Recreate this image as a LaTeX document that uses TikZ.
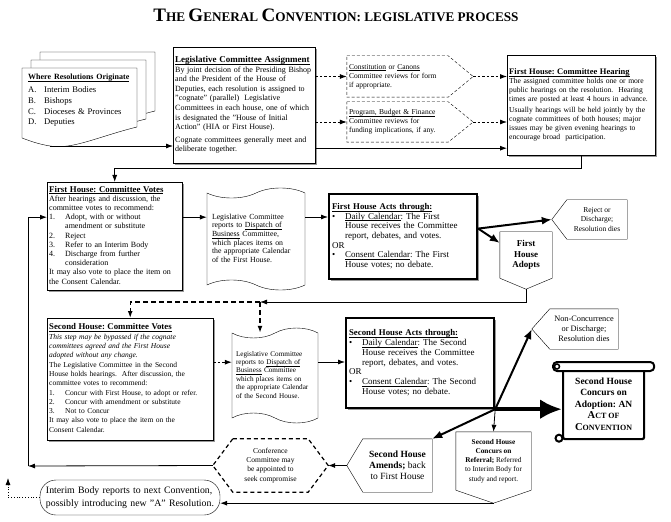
\documentclass[tikz,border=0pt]{standalone}
\usepackage{fontspec}
\setmainfont{Liberation Serif}
\usetikzlibrary{arrows.meta, shapes.symbols, shadows}
\frenchspacing
\newcommand{\setfs}[2]{\fontsize{#1}{#2}\selectfont}
\newcommand{\ulin}[1]{\underline{\smash{#1}}}
\newcommand{\boxhead}[1]{\ulin{\textbf{#1}}}
\newcommand{\boxlines}[1]{\begin{tabular}{@{}l@{}}#1\end{tabular}}
\newcommand{\numitem}[1]{\makebox[16bp][l]{#1}}
\newcommand{\bulitem}{\makebox[13bp][l]{\textbullet}}
\newcommand{\bulpad}{\hspace*{13bp}}
\newcommand{\titlecap}[2]{{\setfs{19bp}{20bp}#1}#2}

\begin{document}
\begin{tikzpicture}[x=1bp, y=-1bp, every node/.style={inner sep=2bp},
    box/.style={draw, fill=white, align=left, anchor=north west,
        drop shadow={shadow xshift=2bp, shadow yshift=-2bp, fill=black!40, opacity=1}},
    actbox/.style={box, line width=2.2bp},
    flag/.style={align=center},
    paper/.style={tape, draw, fill=white, align=left, tape bend top=in and out,
        tape bend bottom=out and in, tape bend height=10bp},
    arr/.style={line width=0.8bp, -{Latex[length=7bp,width=5bp]}},
    darr/.style={arr, dash pattern=on 2.5bp off 2bp},
    bdarr/.style={arr, line width=1.4bp, dash pattern=on 5bp off 3bp},
    tarr/.style={line width=2bp, -{Latex[length=10bp,width=8bp]}}]
    \path[use as bounding box, fill=white] (0,0) rectangle (671,522);
    \node[font=\bfseries\setfs{13.2bp}{16bp}] (title) at (336,15)
        {\titlecap{T}{HE} \titlecap{G}{ENERAL} \titlecap{C}{ONVENTION:} LEGISLATIVE PROCESS};

    \foreach \d in {2,1,0}
        \draw[fill=white, shift={(9*\d,-8*\d)}] (22,68) -- (137,68) -- (137,127)
            .. controls (100,136) and (72,150) .. (50,146)
            .. controls (38,144) and (30,141) .. (22,138) -- cycle;
    \node[align=left, anchor=north west, text width=110bp, font=\setfs{8.6bp}{10.8bp}] (orig) at (26,70)
        {\boxlines{{\setfs{8bp}{9bp}\boxhead{Where Resolutions Originate}}\\[2bp]
        \numitem{A.}Interim Bodies\\ \numitem{B.}Bishops\\
        \numitem{C.}Dioceses \& Provinces\\ \numitem{D.}Deputies}};
    \coordinate (origout) at (50,146);

    \node[box, minimum width=142bp, minimum height=116bp, text width=138bp, font=\setfs{8bp}{9.6bp}] (assign) at (173,47)
        {\boxlines{{\setfs{9bp}{10bp}\boxhead{Legislative Committee Assignment}}\\
        By joint decision of the Presiding Bishop\\
        and the President of the House of\\
        Deputies, each resolution is assigned to\\
        "cognate" (parallel)\ \ Legislative\\
        Committees in each house, one of which\\
        is designated the "House of Initial\\
        Action" (HIA or First House).\\[3bp]
        Cognate committees generally meet and\\
        deliberate together.}};
    \node[align=left, minimum width=101bp, minimum height=41bp, text width=97bp,
        font=\setfs{7.5bp}{9bp}] (constit) at (397.5,76.5)
        {\boxlines{\ulin{Constitution} or \ulin{Canons}\\ Committee reviews for form\\ if appropriate.}};
    \node[align=left, minimum width=101bp, minimum height=40bp, text width=97bp,
        font=\setfs{7.5bp}{9bp}] (pbf) at (397.5,122)
        {\boxlines{\ulin{Program, Budget \& Finance}\\ Committee reviews for\\ funding implications, if any.}};
    \coordinate (constit-tip) at ([xshift=25bp]constit.east);
    \coordinate (pbf-tip) at ([xshift=25bp]pbf.east);
    \foreach \n in {constit, pbf}
        \draw[dash pattern=on 3bp off 2bp] (\n.north west) -- (\n.north east) -- (\n-tip)
            -- (\n.south east) -- (\n.south west) -- cycle;
    \node[box, minimum width=148bp, minimum height=100bp, text width=144bp, font=\setfs{7.6bp}{8.8bp}] (hearing) at (507,55)
        {\boxlines{{\setfs{8.5bp}{9bp}\boxhead{First House: Committee Hearing}}\\
        The assigned committee holds one or more\\
        public hearings on the resolution.\ \ Hearing\\
        times are posted at least 4 hours in advance.\\[3bp]
        Usually hearings will be held jointly by the\\
        cognate committees of both houses; major\\
        issues may be given evening hearings to\\
        encourage broad\ \ participation.}};

    \node[box, minimum width=135bp, minimum height=108bp, text width=131bp, font=\setfs{8bp}{9.2bp}] (fvotes) at (47,182)
        {\boxlines{{\setfs{8.8bp}{9bp}\boxhead{First House: Committee Votes}}\\
        After hearings and discussion, the\\
        committee votes to recommend:\\
        \numitem{1.}Adopt, with or without\\
        \numitem{}amendment or substitute\\
        \numitem{2.}Reject\\
        \numitem{3.}Refer to an Interim Body\\
        \numitem{4.}Discharge from further\\
        \numitem{}consideration\\
        It may also vote to place the item on\\
        the Consent Calendar.}};
    \node[paper, minimum width=98bp, minimum height=102bp, text width=88bp, font=\setfs{7.8bp}{8.6bp}] (fdoc) at (256,239)
        {\boxlines{Legislative Committee\\ reports to \ulin{Dispatch of}\\ \ulin{Business} Committee,\\
        which places items on\\ the appropriate Calendar\\ of the First House.}};
    \node[actbox, minimum width=148bp, minimum height=85bp, text width=142bp, font=\setfs{9bp}{9.7bp}] (facts) at (328,193)
        {\boxlines{{\setfs{8.8bp}{9bp}\boxhead{First House Acts through:}}\\
        \bulitem\ulin{Daily Calendar}: The First\\
        \bulpad House receives the Committee\\
        \bulpad report, debates, and votes.\\
        OR\\
        \bulitem\ulin{Consent Calendar}: The First\\
        \bulpad House votes; no debate.}};
    \node[flag, minimum width=60bp, minimum height=39bp, font=\setfs{7.5bp}{9.5bp}] (reject) at (597,219.5)
        {Reject or\\ Discharge;\\ Resolution dies};
    \node[flag, minimum width=52bp, minimum height=46bp, font=\bfseries\setfs{9bp}{10.5bp}] (adopts) at (526,255)
        {First\\ House\\ Adopts};

    \node[box, minimum width=166bp, minimum height=122bp, text width=162bp, font=\setfs{7.5bp}{9.3bp}] (svotes) at (47,318)
        {\boxlines{{\setfs{8.8bp}{9.5bp}\boxhead{Second House: Committee Votes}}\\
        {\itshape This step may be bypassed if the cognate}\\
        {\itshape committees agreed and the First House}\\
        {\itshape adopted without any change.}\\
        The Legislative Committee in the Second\\
        House holds hearings.\ \ After discussion, the\\
        committee votes to recommend:\\
        \numitem{1.}Concur with First House, to adopt or refer.\\
        \numitem{2.}Concur with amendment or substitute\\
        \numitem{3.}Not to Concur\\
        It may also vote to place the item on the\\
        Consent Calendar.}};
    \node[paper, minimum width=86bp, minimum height=95bp, text width=78bp, font=\setfs{7.2bp}{8.4bp}] (sdoc) at (275,375.5)
        {\boxlines{Legislative Committee\\ reports to \ulin{Dispatch of}\\ \ulin{Business} Committee\\
        which places items on\\ the appropriate Calendar\\ of the Second House.}};
    \node[actbox, minimum width=148bp, minimum height=90bp, text width=142bp, font=\setfs{9bp}{9.7bp}] (sacts) at (345,317)
        {\boxlines{{\setfs{8.8bp}{9bp}\boxhead{Second House Acts through:}}\\
        \bulitem\ulin{Daily Calendar}: The Second\\
        \bulpad House receives the Committee\\
        \bulpad report, debates, and votes.\\
        OR\\
        \bulitem\ulin{Consent Calendar}: The Second\\
        \bulpad House votes; no debate.}};
    \node[flag, minimum width=68bp, minimum height=40bp, font=\setfs{8.3bp}{10bp}] (noncon) at (584,329)
        {Non-Concurrence\\ or Discharge;\\ Resolution dies};
    \node[draw, fill=white, line width=2.2bp, rounded corners=2bp, anchor=north west, minimum width=81bp,
        minimum height=70bp, align=center, font=\bfseries\setfs{9.5bp}{11.5bp}] (scroll) at (562,368)
        {Second House\\ Concurs on\\ Adoption: AN\\ {\setfs{10.5bp}{10bp}A}{\setfs{8bp}{8bp}CT OF}\\
        {\setfs{10.5bp}{10bp}C}{\setfs{8bp}{8bp}ONVENTION}};
    \draw[line width=2bp, fill=white, rounded corners=4bp] ([xshift=-9bp, yshift=6bp]scroll.north west)
        rectangle ([xshift=9bp, yshift=-3bp]scroll.north east);
    \draw[line width=1.5bp] ([xshift=-5bp, yshift=1.5bp]scroll.north west) circle (2.5bp);
    \draw[line width=2bp, fill=white] ([xshift=-3bp, yshift=2bp]scroll.south west) circle (3.5bp);
    \node[flag, minimum width=75bp, minimum height=58bp, font=\setfs{7.3bp}{9.2bp}] (referral) at (493.5,461)
        {\textbf{Second House}\\ \textbf{Concurs on}\\ \textbf{Referral;} Referred\\ to Interim Body for\\ study and report.};
    \node[flag, minimum width=69bp, minimum height=53bp, font=\setfs{9.5bp}{11bp}] (amends) at (397.5,465.5)
        {\textbf{Second House}\\ \textbf{Amends;} back\\ to First House};
    \node[flag, minimum width=75bp, minimum height=53bp, font=\setfs{7.5bp}{9.3bp}] (conf) at (270.5,465.5)
        {Conference\\ Committee may\\ be appointed to\\ seek compromise};
    \node[draw, fill=white, rounded corners=16bp, minimum width=180bp, minimum height=35bp, align=left,
        text width=168bp, font=\setfs{9.8bp}{13bp}] (interim) at (130,497.5)
        {\boxlines{Interim Body reports to next Convention,\\ possibly introducing new "A" Resolution.}};

    \coordinate (reject-tip) at ([xshift=-15bp]reject.west);
    \coordinate (noncon-tip) at ([xshift=-18bp]noncon.west);
    \coordinate (amends-tip) at ([xshift=-16bp]amends.west);
    \coordinate (adopts-tip) at ([yshift=-11bp]adopts.south);
    \coordinate (referral-tip) at ([yshift=-13bp]referral.south);
    \coordinate (conf-tipw) at ([xshift=-20bp]conf.west);
    \coordinate (conf-tipe) at ([xshift=20bp]conf.east);
    \foreach \n in {reject, noncon, amends}
        \draw (\n.north west) -- (\n.north east) -- (\n.south east) -- (\n.south west) -- (\n-tip) -- cycle;
    \foreach \n in {adopts, referral}
        \draw (\n.north west) -- (\n.north east) -- (\n.south east) -- (\n-tip) -- (\n.south west) -- cycle;
    \draw[line width=1.2bp, dash pattern=on 4bp off 3bp] (conf.north west) -- (conf.north east) -- (conf-tipe)
        -- (conf.south east) -- (conf.south west) -- (conf-tipw) -- cycle;

    \coordinate (fork) at (260,302);
    \coordinate (back) at (28,466);
    \coordinate (next) at (8,478);
    \coordinate (fout) at ([yshift=8bp]facts.east);
    \coordinate (hub) at (sacts.south east);

    \draw[arr] (origout) -- (origout -| assign.west);
    \draw[darr] (assign.east |- constit.west) -- (constit.west);
    \draw[darr] (assign.east |- pbf.west) -- (pbf.west);
    \draw[darr] (constit-tip) -- (constit-tip -| hearing.west);
    \draw[darr] (pbf-tip) -- (pbf-tip -| hearing.west);
    \draw[arr] ([yshift=-43bp]assign.east) -- ([yshift=-43bp]assign.east -| hearing.west);
    \draw[arr] (hearing.south) -- ++(0,13) -| (fvotes.north);
    \draw[arr] ([yshift=19bp]fvotes.east) -- ([yshift=19bp]fvotes.east -| fdoc.west);
    \draw[arr] ([yshift=22bp]fdoc.east) -- ([yshift=22bp]fdoc.east -| facts.west);
    \draw[tarr] (fout) -- (reject-tip);
    \draw[tarr] (fout) -- ([yshift=12bp]adopts.west);
    \draw[arr] (adopts-tip) |- (fork);
    \draw[bdarr] (fork) -| (svotes.north);
    \draw[bdarr] (fork) -- (fork |- sdoc.north);
    \draw[darr] ([yshift=17bp]svotes.east) -- ([yshift=17bp]svotes.east -| sdoc.west);
    \draw[arr] ([yshift=13.5bp]sdoc.east) -- ([yshift=13.5bp]sdoc.east -| sacts.west);
    \draw[tarr] (hub) -- (noncon-tip);
    \draw[line width=4.5bp, -{Latex[length=22bp,width=20bp]}] (hub) -- (hub -| scroll.west);
    \draw[arr] (hub) -- (referral.north);
    \draw[tarr] (hub) -- (amends.north east);
    \draw[arr] (amends-tip) -- (conf-tipe);
    \draw[arr] (conf-tipw) -- (back);
    \draw[arr] (back) |- ([yshift=19bp]fvotes.west);
    \draw[arr] (referral-tip) -- (referral-tip -| interim.east);
    \draw[arr, dotted] (interim.west) -| (next);
\end{tikzpicture}
\end{document}
